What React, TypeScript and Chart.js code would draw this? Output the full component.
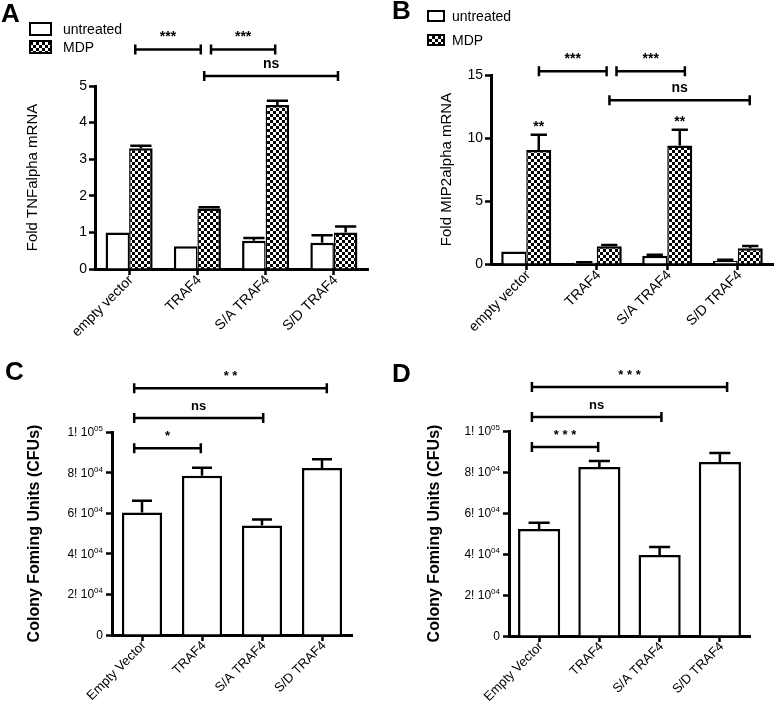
import React, { useEffect, useRef } from 'react';
import { Chart, registerables } from 'chart.js';
Chart.register(...registerables);

const FONT = "'Liberation Sans', Arial, Helvetica, sans-serif";

// ---------- data ----------
const categoriesAB = ['empty vector', 'TRAF4', 'S/A TRAF4', 'S/D TRAF4'];
const categoriesCD = ['Empty Vector', 'TRAF4', 'S/A TRAF4', 'S/D TRAF4'];
const seriesLabels = ['untreated', 'MDP'];

const tnfUntreated = [1.0, 0.62, 0.77, 0.72];
const tnfUntreatedErr = [0, 0, 0.08, 0.2];
const tnfMdp = [3.3, 1.65, 4.48, 1.0];
const tnfMdpErr = [0.07, 0.04, 0.12, 0.16];
const tnfTicks = [0, 1, 2, 3, 4, 5];
const tnfSigText = ['***', '***', 'ns'];
const tnfSigFrom = [0.09, 1.2, 1.1];
const tnfSigTo = [1.05, 2.14, 3.06];
const tnfSigLevel = [6.0, 6.0, 5.27];

const mipUntreated = [1.0, 0.1, 0.65, 0.25];
const mipUntreatedErr = [0, 0.04, 0.08, 0.08];
const mipMdp = [9.05, 1.4, 9.4, 1.25];
const mipMdpErr = [1.2, 0.1, 1.25, 0.18];
const mipMdpMarks = ['**', '', '**', ''];
const mipTicks = [0, 5, 10, 15];
const mipSigText = ['***', '***', 'ns'];
const mipSigFrom = [0.18, 1.28, 1.18];
const mipSigTo = [1.14, 2.25, 3.17];
const mipSigLevel = [15.3, 15.3, 13.0];

const cfuTicks = [0, 20000, 40000, 60000, 80000, 100000];
const cfuTickMain = ['0', '2! 10', '4! 10', '6! 10', '8! 10', '1! 10'];
const cfuTickSup = ['', '04', '04', '04', '04', '05'];

const cfuC = [60300, 78400, 53900, 82300];
const cfuCErr = [5800, 4000, 3000, 4300];
const cSigText = ['* *', 'ns', '*'];
const cSigFrom = [-0.13, -0.13, -0.13];
const cSigTo = [3.08, 2.02, 0.98];
const cSigLevel = [121600, 106900, 92000];

const cfuD = [52200, 82400, 39500, 84900];
const cfuDErr = [3000, 3000, 3900, 4400];
const dSigText = ['* * *', 'ns', '* * *'];
const dSigFrom = [-0.12, -0.12, -0.12];
const dSigTo = [3.12, 2.03, 0.98];
const dSigLevel = [121500, 106800, 92200];

// ---------- types ----------
type Series = { label: string; values: number[]; errors: number[]; patterned: boolean; marks?: string[] };
type Spec = {
  letter: string;
  categories: string[];
  series: Series[];
  yTicks: number[];
  tickMain?: string[];
  tickSup?: string[];
  yTitle: string;
  sigText: string[];
  sigFrom: number[];
  sigTo: number[];
  sigLevel: number[];
  legend: boolean;
};
type Layout = {
  left: number; top: number; w: number; h: number;
  area: { left: number; top: number; right: number; bottom: number };
  catPct: number; capRatio: number; bw: number;
  tickFont: number; xFont: number; titleFont: number; titleBold: boolean; titleCenter: number;
  sigFont: number;
  letterX: number; letterY: number;
  legendBoxX?: number; legendBoxW?: number; legendBoxH?: number; legendRows?: number[]; legendTextX?: number;
};

const specs: Spec[] = [
  {
    letter: 'A', categories: categoriesAB,
    series: [
      { label: seriesLabels[0], values: tnfUntreated, errors: tnfUntreatedErr, patterned: false },
      { label: seriesLabels[1], values: tnfMdp, errors: tnfMdpErr, patterned: true },
    ],
    yTicks: tnfTicks, yTitle: 'Fold TNFalpha mRNA',
    sigText: tnfSigText, sigFrom: tnfSigFrom, sigTo: tnfSigTo, sigLevel: tnfSigLevel, legend: true,
  },
  {
    letter: 'B', categories: categoriesAB,
    series: [
      { label: seriesLabels[0], values: mipUntreated, errors: mipUntreatedErr, patterned: false },
      { label: seriesLabels[1], values: mipMdp, errors: mipMdpErr, patterned: true, marks: mipMdpMarks },
    ],
    yTicks: mipTicks, yTitle: 'Fold MIP2alpha mRNA',
    sigText: mipSigText, sigFrom: mipSigFrom, sigTo: mipSigTo, sigLevel: mipSigLevel, legend: true,
  },
  {
    letter: 'C', categories: categoriesCD,
    series: [{ label: 'CFU', values: cfuC, errors: cfuCErr, patterned: false }],
    yTicks: cfuTicks, tickMain: cfuTickMain, tickSup: cfuTickSup, yTitle: 'Colony Foming Units (CFUs)',
    sigText: cSigText, sigFrom: cSigFrom, sigTo: cSigTo, sigLevel: cSigLevel, legend: false,
  },
  {
    letter: 'D', categories: categoriesCD,
    series: [{ label: 'CFU', values: cfuD, errors: cfuDErr, patterned: false }],
    yTicks: cfuTicks, tickMain: cfuTickMain, tickSup: cfuTickSup, yTitle: 'Colony Foming Units (CFUs)',
    sigText: dSigText, sigFrom: dSigFrom, sigTo: dSigTo, sigLevel: dSigLevel, legend: false,
  },
];

const layouts: Layout[] = [
  {
    left: 0, top: 0, w: 388, h: 340, area: { left: 95, top: 86, right: 368, bottom: 269 },
    catPct: 0.69, capRatio: 0.9, bw: 2.5, tickFont: 14, xFont: 14, titleFont: 15, titleBold: false, titleCenter: 33,
    sigFont: 14, letterX: 1, letterY: 22,
    legendBoxX: 30, legendBoxW: 21, legendBoxH: 12, legendRows: [23, 41], legendTextX: 63,
  },
  {
    left: 390, top: 0, w: 387, h: 340, area: { left: 101, top: 75, right: 383, bottom: 264 },
    catPct: 0.71, capRatio: 0.65, bw: 2.5, tickFont: 14, xFont: 14, titleFont: 15, titleBold: false, titleCenter: 57,
    sigFont: 14, letterX: 2, letterY: 19,
    legendBoxX: 38, legendBoxW: 16, legendBoxH: 10, legendRows: [11, 35], legendTextX: 62,
  },
  {
    left: 0, top: 340, w: 388, h: 362, area: { left: 112, top: 92, right: 352, bottom: 295 },
    catPct: 0.67, capRatio: 0.5, bw: 2.5, tickFont: 12, xFont: 13, titleFont: 16, titleBold: true, titleCenter: 35,
    sigFont: 13, letterX: 5, letterY: 40,
  },
  {
    left: 390, top: 340, w: 387, h: 362, area: { left: 119, top: 91, right: 360, bottom: 296 },
    catPct: 0.7, capRatio: 0.5, bw: 2.5, tickFont: 12, xFont: 13, titleFont: 16, titleBold: true, titleCenter: 45,
    sigFont: 13, letterX: 2, letterY: 42,
  },
];

function makePattern(): CanvasPattern | string {
  const c = document.createElement('canvas');
  c.width = 6; c.height = 6;
  const g = c.getContext('2d');
  if (!g) return '#888';
  g.fillStyle = '#fff'; g.fillRect(0, 0, 6, 6);
  g.fillStyle = '#000'; g.fillRect(0, 0, 3, 3); g.fillRect(3, 3, 3, 3);
  return g.createPattern(c, 'repeat') || '#888';
}

function annotatePlugin(spec: Spec, L: Layout, pattern: any) {
  return {
    id: 'annot' + spec.letter,
    afterDraw(chart: any) {
      const ctx: CanvasRenderingContext2D = chart.ctx;
      const xs = chart.scales.x;
      const ys = chart.scales.y;
      ctx.save();
      ctx.strokeStyle = '#000';
      ctx.fillStyle = '#000';
      ctx.lineWidth = 2.5;
      ctx.lineCap = 'butt';

      // error bars + marks
      spec.series.forEach((s, di) => {
        const meta = chart.getDatasetMeta(di);
        meta.data.forEach((el: any, j: number) => {
          const err = s.errors[j];
          const topPx = ys.getPixelForValue(s.values[j] + err);
          if (err > 0) {
            const half = (el.width * L.capRatio) / 2;
            ctx.beginPath();
            ctx.moveTo(el.x, el.y);
            ctx.lineTo(el.x, topPx);
            ctx.moveTo(el.x - half, topPx);
            ctx.lineTo(el.x + half, topPx);
            ctx.stroke();
          }
          if (s.marks && s.marks[j]) {
            ctx.font = `bold ${L.sigFont}px ${FONT}`;
            ctx.textAlign = 'center';
            ctx.textBaseline = 'alphabetic';
            ctx.fillText(s.marks[j], el.x, topPx - 4);
          }
        });
      });

      // significance brackets
      spec.sigText.forEach((t, k) => {
        const x1 = xs.getPixelForValue(spec.sigFrom[k]);
        const x2 = xs.getPixelForValue(spec.sigTo[k]);
        const y = ys.getPixelForValue(spec.sigLevel[k]);
        ctx.beginPath();
        ctx.moveTo(x1, y); ctx.lineTo(x2, y);
        ctx.moveTo(x1, y - 5); ctx.lineTo(x1, y + 5);
        ctx.moveTo(x2, y - 5); ctx.lineTo(x2, y + 5);
        ctx.stroke();
        ctx.font = `bold ${L.sigFont}px ${FONT}`;
        ctx.textAlign = 'center';
        ctx.textBaseline = 'alphabetic';
        ctx.fillText(t, (x1 + x2) / 2, y - 8);
      });

      // custom y tick labels with superscript
      if (spec.tickMain && spec.tickSup) {
        const right = L.area.left - 9;
        spec.yTicks.forEach((v, i) => {
          const y = ys.getPixelForValue(v);
          const main = spec.tickMain![i];
          const sup = spec.tickSup![i];
          ctx.font = `8px ${FONT}`;
          const sw = sup ? ctx.measureText(sup).width : 0;
          ctx.textAlign = 'left';
          ctx.textBaseline = 'alphabetic';
          if (sup) ctx.fillText(sup, right - sw, y - 1);
          ctx.font = `${L.tickFont}px ${FONT}`;
          ctx.textAlign = 'right';
          ctx.fillText(main, right - sw, y + 4);
        });
      }

      // legend
      if (spec.legend && L.legendRows) {
        spec.series.forEach((s, i) => {
          const by = L.legendRows![i];
          ctx.fillStyle = s.patterned ? pattern : '#fff';
          ctx.fillRect(L.legendBoxX!, by, L.legendBoxW!, L.legendBoxH!);
          ctx.lineWidth = 2;
          ctx.strokeStyle = '#000';
          ctx.strokeRect(L.legendBoxX!, by, L.legendBoxW!, L.legendBoxH!);
          ctx.fillStyle = '#000';
          ctx.font = `14px ${FONT}`;
          ctx.textAlign = 'left';
          ctx.textBaseline = 'middle';
          ctx.fillText(s.label, L.legendTextX!, by + L.legendBoxH! / 2 + 1);
        });
      }

      // panel letter
      ctx.fillStyle = '#000';
      ctx.font = `bold 26px ${FONT}`;
      ctx.textAlign = 'left';
      ctx.textBaseline = 'alphabetic';
      ctx.fillText(spec.letter, L.letterX, L.letterY);
      ctx.restore();
    },
  };
}

function buildConfig(spec: Spec, L: Layout, pattern: any): any {
  const grouped = spec.series.length > 1;
  const bw = L.bw;
  const datasets = spec.series.map((s, i) => ({
    label: s.label,
    data: s.values,
    backgroundColor: s.patterned ? pattern : '#fff',
    borderColor: '#000',
    borderWidth: grouped
      ? (i === 0
        ? { top: bw, left: bw, right: 1.5, bottom: 0 }
        : { top: bw, left: 1.5, right: bw, bottom: 0 })
      : { top: bw, left: bw, right: bw, bottom: 0 },
    borderSkipped: 'start',
    barPercentage: 1,
    categoryPercentage: L.catPct,
  }));
  const titleLH = L.titleFont * 1.2;
  return {
    type: 'bar',
    data: { labels: spec.categories, datasets },
    options: {
      responsive: false,
      maintainAspectRatio: false,
      animation: false,
      devicePixelRatio: 1,
      layout: { padding: { left: 0, top: L.area.top, right: L.w - L.area.right, bottom: 0 } },
      plugins: { legend: { display: false }, tooltip: { enabled: false }, title: { display: false } },
      scales: {
        x: {
          type: 'category',
          offset: true,
          grid: {
            display: true, drawOnChartArea: false, drawTicks: true, tickLength: 6, tickWidth: 2.5,
            tickColor: '#000', color: '#000', offset: false,
          },
          border: { display: true, color: '#000', width: 3 },
          ticks: {
            font: { family: FONT, size: L.xFont }, color: '#000', minRotation: 45, maxRotation: 45,
            autoSkip: false, padding: -3, labelOffset: 2,
          },
          afterFit: (s: any) => {
            s.height = L.h - L.area.bottom;
            s.paddingLeft = 0; s.paddingRight = 0;
          },
        },
        y: {
          type: 'linear',
          min: 0,
          max: spec.yTicks[spec.yTicks.length - 1],
          afterBuildTicks: (s: any) => { s.ticks = spec.yTicks.map((v) => ({ value: v })); },
          grid: {
            display: true, drawOnChartArea: false, drawTicks: true, tickLength: 6, tickWidth: 2.5,
            tickColor: '#000', color: '#000',
          },
          border: { display: true, color: '#000', width: 3 },
          ticks: {
            display: !spec.tickMain,
            font: { family: FONT, size: L.tickFont }, color: '#000', padding: 2,
          },
          title: {
            display: true, text: spec.yTitle, color: '#000',
            font: { family: FONT, size: L.titleFont, weight: L.titleBold ? 'bold' : 'normal' },
            padding: { top: L.titleCenter - titleLH / 2, bottom: 0 },
          },
          afterFit: (s: any) => {
            s.width = L.area.left;
            s.paddingTop = 0; s.paddingBottom = 0;
          },
        },
      },
    },
    plugins: [annotatePlugin(spec, L, pattern)],
  };
}

function Panel({ spec, layout }: { spec: Spec; layout: Layout }) {
  const ref = useRef<HTMLCanvasElement>(null);
  useEffect(() => {
    const canvas = ref.current;
    if (!canvas) return;
    const pattern = makePattern();
    const chart = new Chart(canvas, buildConfig(spec, layout, pattern));
    return () => chart.destroy();
  }, [spec, layout]);
  return (
    <div style={{ position: 'absolute', left: layout.left, top: layout.top, width: layout.w, height: layout.h }}>
      <canvas ref={ref} width={layout.w} height={layout.h} style={{ width: layout.w, height: layout.h, display: 'block' }} />
    </div>
  );
}

export default function App() {
  return (
    <div style={{ position: 'absolute', left: 0, top: 0, width: 777, height: 702, background: '#fff', overflow: 'hidden' }}>
      {specs.map((s, i) => (
        <Panel key={s.letter} spec={s} layout={layouts[i]} />
      ))}
    </div>
  );
}
